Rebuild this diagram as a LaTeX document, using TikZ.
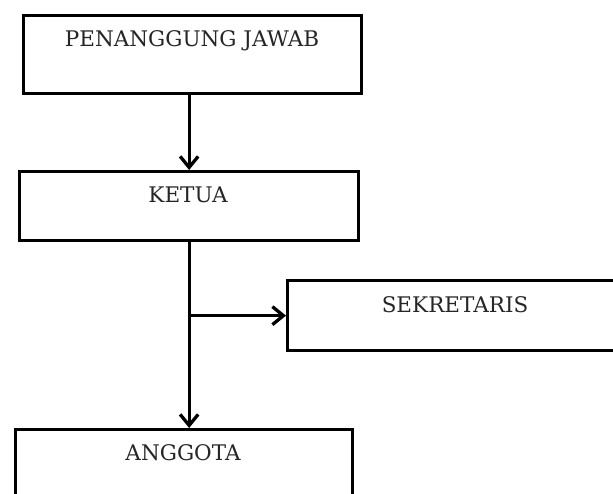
\documentclass[tikz,border=0pt]{standalone}
\usepackage{fontspec}
\setmainfont{DejaVu Serif}
\usetikzlibrary{arrows.meta}
\begin{document}
\begin{tikzpicture}[x=1pt,y=-1pt,
  orgbox/.style={draw=black, line width=3.3pt, fill=none, inner sep=0pt, anchor=north west},
  orgtext/.style={anchor=base, inner sep=0pt, font=\fontsize{21.5}{24}\selectfont, text=black!85},
  arr/.style={line width=3.3pt, -{Straight Barb[length=11pt,width=18pt,line width=3.3pt]}}]
\useasboundingbox (0,0) rectangle (613,493);
\clip (0,0) rectangle (613,493);
\fill[white] (0,0) rectangle (613,493);
% boxes
\node[orgbox, minimum width=338pt, minimum height=78pt] (pj) at (22,14) {};
\node[orgbox, minimum width=339pt, minimum height=69pt] (ketua) at (18,170) {};
\node[orgbox, minimum width=338pt, minimum height=70pt] (sek) at (286,279) {};
\node[orgbox, minimum width=337pt, minimum height=72pt] (angg) at (14,428) {};
% texts
\node[orgtext] (pjt) at (192,46) {PENANGGUNG JAWAB};
\node[orgtext] (kett) at (188,202) {KETUA};
\node[orgtext] (sekt) at (455,312) {SEKRETARIS};
\node[orgtext] (anggt) at (183,460) {ANGGOTA};
% connectors
\draw[arr] (pj.south -| ketua.north) -- (ketua.north);
\coordinate (br) at (ketua.south |- sek.west);
\draw[arr] (ketua.south) -- (angg.north -| ketua.south);
\draw[arr] (br) -- (sek.west);
\end{tikzpicture}
\end{document}
